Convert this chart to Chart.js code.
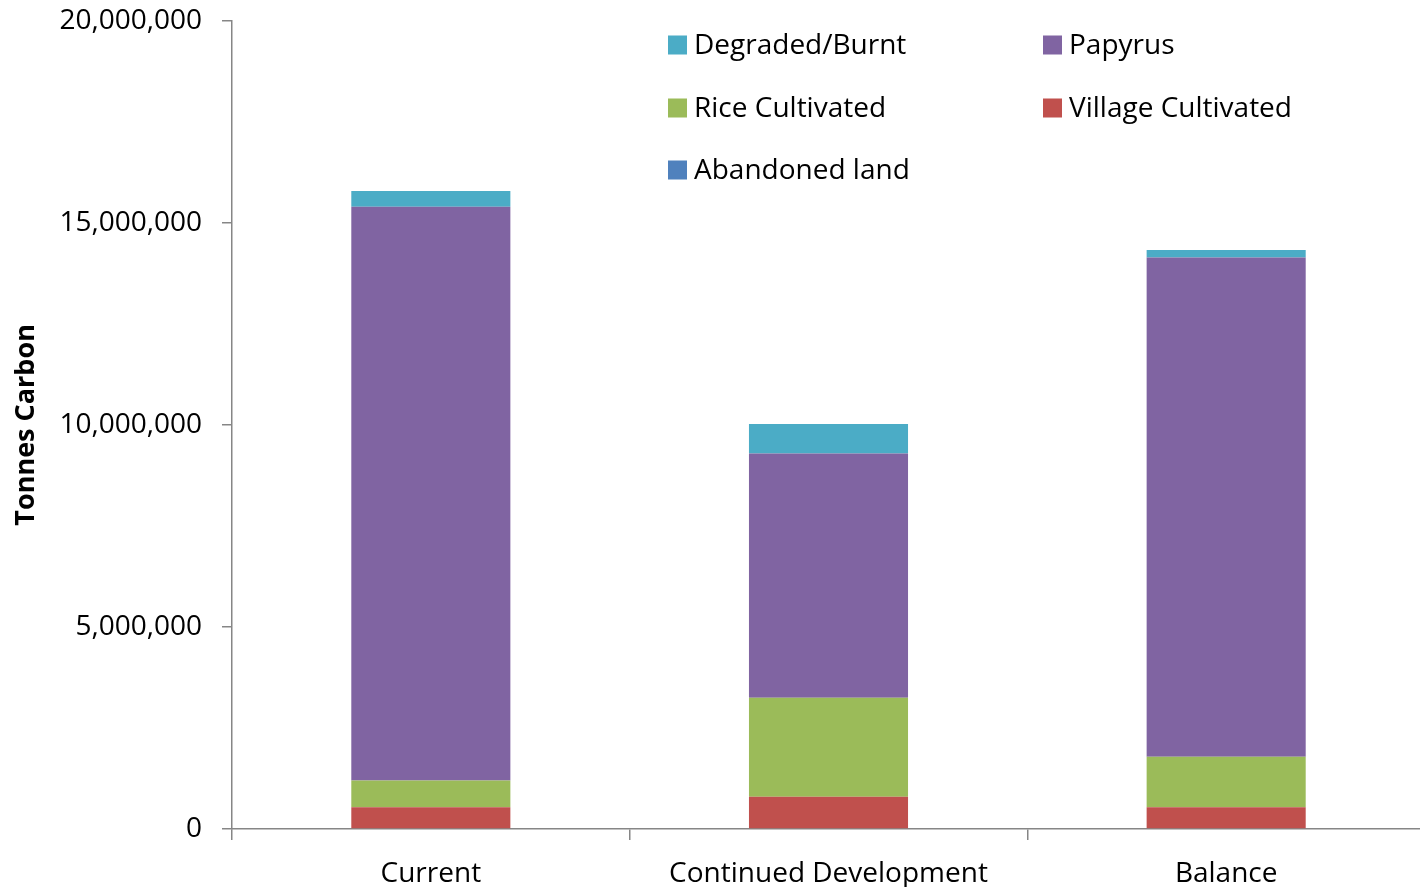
<!DOCTYPE html>
<html>
<head>
<meta charset="utf-8">
<script src="https://cdn.jsdelivr.net/npm/chart.js@4"></script>
<style>
    html, body { margin: 0; padding: 0; background: #fff; overflow: hidden; }
    /* shifted up so the 20M tick lands near the top edge like the source */
    #wrap { width: 1425px; height: 903px; position: absolute; left: 0; top: -16px; }
</style>
</head>
<body>
<div id="wrap"><canvas id="carbonChart"></canvas></div>
<script>
// ─── Carbon stock by scenario ───

const SCENARIOS = ['Current', 'Continued Development', 'Balance'];

// tonnes carbon
const VILLAGE = [540000, 800000, 540000];
const RICE = [660000, 2450000, 1250000];
const PAPYRUS = [14200000, 6040000, 12350000];
const DEGRADED = [390000, 730000, 190000];
const ABANDONED = [0, 0, 0];

const Y_TICKS = [0, 5000000, 10000000, 15000000, 20000000];

const COLORS = {
    village: '#C0504D',
    rice: '#9BBB59',
    papyrus: '#8064A2',
    degraded: '#4BACC6',
    abandoned: '#4F81BD'
};

const FONT = 'Open Sans';

// legend reads row by row, two columns
const LEGEND_ORDER = ['Degraded/Burnt', 'Papyrus', 'Rice Cultivated', 'Village Cultivated', 'Abandoned land'];

const boxLegend = {
    id: 'boxLegend',
    afterDraw(chart) {
        const ctx = chart.ctx;
        const cols = [668, 1043];
        const rows = [61, 124, 186]; // canvas is offset by 16px
        ctx.save();
        ctx.font = `28px "${FONT}"`;
        ctx.textBaseline = 'middle';
        ctx.textAlign = 'left';
        LEGEND_ORDER.forEach((label, i) => {
            const ds = chart.data.datasets.find(d => d.label === label);
            const x = cols[i % 2];
            const y = rows[Math.floor(i / 2)];
            ctx.fillStyle = ds.backgroundColor;
            ctx.fillRect(x, y - 9.5, 19, 19);
            ctx.fillStyle = '#000';
            ctx.fillText(label, x + 26, y + 1);
        });
        ctx.restore();
    }
};

function barSet(label, data, color) {
    return {
        label,
        data,
        backgroundColor: color,
        borderWidth: 0,
        categoryPercentage: 0.4,
        barPercentage: 1
    };
}

new Chart(document.getElementById('carbonChart'), {
    type: 'bar',
    data: {
        labels: SCENARIOS,
        datasets: [
            barSet('Abandoned land', ABANDONED, COLORS.abandoned),
            barSet('Village Cultivated', VILLAGE, COLORS.village),
            barSet('Rice Cultivated', RICE, COLORS.rice),
            barSet('Papyrus', PAPYRUS, COLORS.papyrus),
            barSet('Degraded/Burnt', DEGRADED, COLORS.degraded)
        ]
    },
    options: {
        responsive: true,
        maintainAspectRatio: false,
        animation: false,
        layout: { padding: { top: 19, right: 0, left: 0, bottom: 0 } },
        plugins: {
            legend: { display: false },
            tooltip: { enabled: false }
        },
        scales: {
            x: {
                stacked: true,
                offset: true,
                grid: {
                    offset: true,
                    drawOnChartArea: false,
                    drawTicks: true,
                    tickLength: 11,
                    color: '#868686',
                    lineWidth: 1.5
                },
                border: { color: '#868686', width: 1.5 },
                ticks: {
                    color: '#000',
                    font: { family: FONT, size: 28 },
                    padding: 17,
                    maxRotation: 0
                },
                afterFit(scale) { scale.height = 58; }
            },
            y: {
                stacked: true,
                min: 0,
                max: 20000000,
                afterBuildTicks(scale) {
                    scale.ticks = Y_TICKS.map(v => ({ value: v }));
                },
                grid: {
                    drawOnChartArea: false,
                    drawTicks: true,
                    tickLength: 10,
                    color: '#868686',
                    lineWidth: 1.5
                },
                border: { color: '#868686', width: 1.5 },
                ticks: {
                    color: '#000',
                    font: { family: FONT, size: 28 },
                    padding: 20,
                    callback: v => v.toLocaleString('en-US')
                },
                title: {
                    display: true,
                    text: 'Tonnes Carbon',
                    color: '#000',
                    font: { family: FONT, size: 27, weight: 'bold' },
                    padding: { top: 10, bottom: 0 }
                },
                afterFit(scale) { scale.width = 232; }
            }
        }
    },
    plugins: [boxLegend]
});
</script>
</body>
</html>
